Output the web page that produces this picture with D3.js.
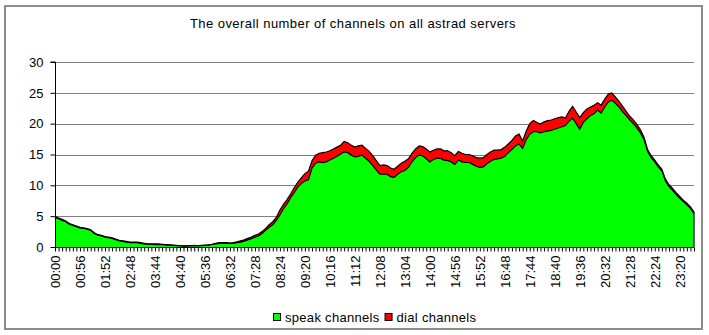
<!DOCTYPE html>
<html>
<head>
<meta charset="utf-8">
<script src="https://cdn.jsdelivr.net/npm/d3@7"></script>
<style>
  html, body { margin: 0; padding: 0; background: #fff; }
  svg { display: block; }
  text { font-family: "Liberation Sans", Arial, sans-serif; font-size: 13px; fill: #000; }
  .spaced { letter-spacing: 0.45px; }
  .legend-text { letter-spacing: 0.3px; }
</style>
</head>
<body>
<svg id="chart" width="709" height="335"></svg>
<script>
// Time slots: one sample every 8 minutes over the day
const categories = d3.range(180).map(i => {
  const m = i * 8;
  return String(Math.floor(m / 60)).padStart(2, "0") + ":" + String(m % 60).padStart(2, "0");
});

// Every 7th slot carries a label
const tickLabels = ["00:00","00:56","01:52","02:48","03:44","04:40","05:36","06:32","07:28",
  "08:24","09:20","10:16","11:12","12:08","13:04","14:00","14:56","15:52","16:48","17:44",
  "18:40","19:36","20:32","21:28","22:24","23:20"];

const yTicks = [0, 5, 10, 15, 20, 25, 30];

const seriesNames = ["speak channels", "dial channels"];
const seriesColors = ["#00ff00", "#ff0000"];

const speak = [
  4.8,4.6,4.3,4.1,3.7,3.5,3.3,3.1,3.0,2.9,
  2.7,2.2,1.9,1.8,1.6,1.5,1.4,1.2,1.0,0.9,
  0.8,0.7,0.7,0.7,0.6,0.5,0.45,0.45,0.4,0.4,
  0.4,0.35,0.3,0.25,0.2,0.2,0.15,0.15,0.2,0.2,
  0.2,0.2,0.25,0.3,0.4,0.5,0.6,0.6,0.6,0.6,
  0.6,0.7,0.8,0.95,1.15,1.35,1.6,1.8,2.2,2.7,
  3.2,3.6,4.3,5.2,6.2,7.0,8.0,8.8,9.7,10.3,
  10.7,10.9,12.8,13.6,13.8,13.7,13.8,14.1,14.4,14.7,
  15.1,15.4,15.3,14.9,14.6,14.7,14.9,14.4,13.9,13.2,
  12.5,11.8,11.8,11.8,11.4,11.3,11.8,12.2,12.4,12.9,
  13.8,14.5,14.9,14.8,14.3,13.8,14.2,14.4,14.35,14.1,
  14.0,13.8,13.4,14.1,13.8,13.7,13.7,13.4,13.1,12.9,
  13.0,13.5,13.9,14.2,14.3,14.4,14.7,15.3,15.8,16.4,
  16.7,16.0,17.4,18.3,18.7,18.7,18.5,18.7,18.8,18.9,
  19.1,19.3,19.5,19.7,20.4,20.9,20.0,19.1,20.2,20.8,
  21.3,21.6,22.2,21.7,22.7,23.5,23.8,23.3,22.7,21.9,
  21.3,20.6,20.0,19.3,18.5,17.4,15.5,14.5,13.8,13.0,
  12.3,10.7,9.8,9.2,8.5,7.9,7.35,6.85,6.25,5.45
];

const dial = [
  0.2,0.1,0.2,0.1,0.1,0.1,0.1,0.1,0.1,0.1,
  0.1,0.1,0.1,0.1,0.1,0.1,0.1,0.1,0.1,0.1,
  0.1,0.1,0.1,0.1,0.1,0.1,0.05,0.05,0.1,0.1,
  0.05,0.05,0.05,0.05,0.05,0,0.05,0.05,0,0.05,
  0,0.05,0.05,0.05,0.05,0.1,0.1,0.1,0.1,0.05,
  0.1,0.15,0.2,0.2,0.25,0.25,0.3,0.3,0.3,0.3,
  0.4,0.5,0.5,0.8,0.7,0.7,0.6,0.8,0.8,0.9,
  1.2,1.4,1.2,1.3,1.4,1.6,1.6,1.5,1.5,1.5,
  1.4,1.7,1.6,1.6,1.6,1.7,1.6,1.6,1.6,1.6,
  1.5,1.4,1.5,1.4,1.4,1.3,1.3,1.4,1.5,1.4,
  1.4,1.4,1.5,1.5,1.6,1.6,1.5,1.5,1.55,1.5,
  1.6,1.5,1.4,1.4,1.4,1.3,1.3,1.4,1.4,1.5,
  1.5,1.5,1.5,1.5,1.4,1.4,1.5,1.4,1.5,1.6,
  1.6,1.2,1.4,1.7,1.8,1.5,1.45,1.6,1.7,1.7,
  1.7,1.7,1.6,1.2,1.6,1.9,1.9,1.9,1.6,1.6,
  1.4,1.4,1.2,1.3,1.3,1.3,1.2,1.0,0.9,0.9,
  0.7,0.6,0.6,0.6,0.5,0.4,0.3,0.3,0.3,0.3,
  0.3,0.3,0.3,0.3,0.3,0.3,0.25,0.25,0.25,0.25
];

const svg = d3.select("#chart");
const plot = { left: 55, right: 694, top: 62, bottom: 247 };

// Outer chart frame
svg.append("rect")
  .attr("x", 5).attr("y", 6).attr("width", 697).attr("height", 323)
  .attr("fill", "#fff").attr("stroke", "#8c8c8c").attr("stroke-width", 2);

// Title
svg.append("text")
  .attr("class", "spaced")
  .attr("x", 353).attr("y", 28)
  .attr("text-anchor", "middle")
  .text("The overall number of channels on all astrad servers");

const x = d3.scalePoint().domain(categories).range([plot.left, plot.right]);
const y = d3.scaleLinear().domain([0, 30]).range([plot.bottom, plot.top]);

// Horizontal gridlines
svg.append("g")
  .selectAll("line")
  .data(yTicks.filter(v => v > 0))
  .join("line")
  .attr("x1", plot.left).attr("x2", plot.right)
  .attr("y1", d => Math.round(y(d)) + 0.5).attr("y2", d => Math.round(y(d)) + 0.5)
  .attr("stroke", "#808080").attr("stroke-width", 1);

// Stacked data
const rows = categories.map((c, i) => ({ t: c, speak: speak[i], dial: dial[i] }));
const stack = d3.stack().keys(["speak", "dial"])(rows);

const area = d3.area()
  .x(d => x(d.data.t))
  .y0(d => y(d[0]))
  .y1(d => y(d[1]));

const topLine = d3.line()
  .x(d => x(d.data.t))
  .y(d => y(d[1]));

svg.append("g")
  .selectAll("path")
  .data(stack)
  .join("path")
  .attr("d", area)
  .attr("fill", (d, i) => seriesColors[i]);

svg.append("g")
  .selectAll("path")
  .data(stack)
  .join("path")
  .attr("d", topLine)
  .attr("fill", "none")
  .attr("stroke", "#000")
  .attr("stroke-width", 1.2);

// Right edge of the stacked area
const lastStack = stack[stack.length - 1];
const lastPt = lastStack[lastStack.length - 1];
svg.append("line")
  .attr("x1", x(categories[categories.length - 1])).attr("x2", x(categories[categories.length - 1]))
  .attr("y1", y(0)).attr("y2", y(lastPt[1]))
  .attr("stroke", "#000").attr("stroke-width", 1.2);

// Y axis
const yAxis = d3.axisLeft(y).tickValues(yTicks).tickSize(5).tickPadding(7).tickFormat(d3.format("d"));
const gy = svg.append("g")
  .attr("transform", `translate(${plot.left + 0.5},0)`)
  .call(yAxis);
gy.select(".domain").attr("stroke", "#000").attr("d", `M-5,${y(30)}H0V${y(0)}`);
gy.selectAll(".tick line").attr("stroke", "#000");
gy.selectAll(".tick text")
  .style("font-family", "'Liberation Sans', Arial, sans-serif")
  .style("font-size", "13px");

// X axis: tick mark at every slot, labels every 7th slot
const xAxis = d3.axisBottom(x)
  .tickValues(categories)
  .tickSize(4)
  .tickFormat(d => tickLabels.includes(d) ? d : "");
const gx = svg.append("g")
  .attr("transform", `translate(0,${plot.bottom + 0.5})`)
  .call(xAxis);
gx.select(".domain").attr("stroke", "#000").attr("d", `M${plot.left},0H${plot.right}`);
gx.selectAll(".tick line").attr("stroke", "#000");
gx.selectAll(".tick text")
  .style("font-family", "'Liberation Sans', Arial, sans-serif")
  .style("font-size", "13px")
  .attr("text-anchor", "end")
  .attr("transform", "rotate(-90)")
  .attr("x", -8)
  .attr("y", 0)
  .attr("dy", "0.35em");

// Legend, laid out left to right and centred under the plot
const legend = svg.append("g");
const sw = 7, gapText = 5, gapItem = 5;
let cursor = 0;
seriesNames.forEach((name, i) => {
  const g = legend.append("g").attr("transform", `translate(${cursor},0)`);
  g.append("rect")
    .attr("x", 0.5).attr("y", 313.5).attr("width", sw).attr("height", sw)
    .attr("fill", seriesColors[i]).attr("stroke", "#000").attr("stroke-width", 1);
  const t = g.append("text")
    .attr("class", "legend-text")
    .attr("x", sw + gapText).attr("y", 322)
    .text(name);
  cursor += sw + gapText + t.node().getComputedTextLength() + gapItem;
});
const legendWidth = cursor - gapItem;
legend.attr("transform", `translate(${Math.round((plot.left + plot.right) / 2 - legendWidth / 2)},0)`);
</script>
</body>
</html>
